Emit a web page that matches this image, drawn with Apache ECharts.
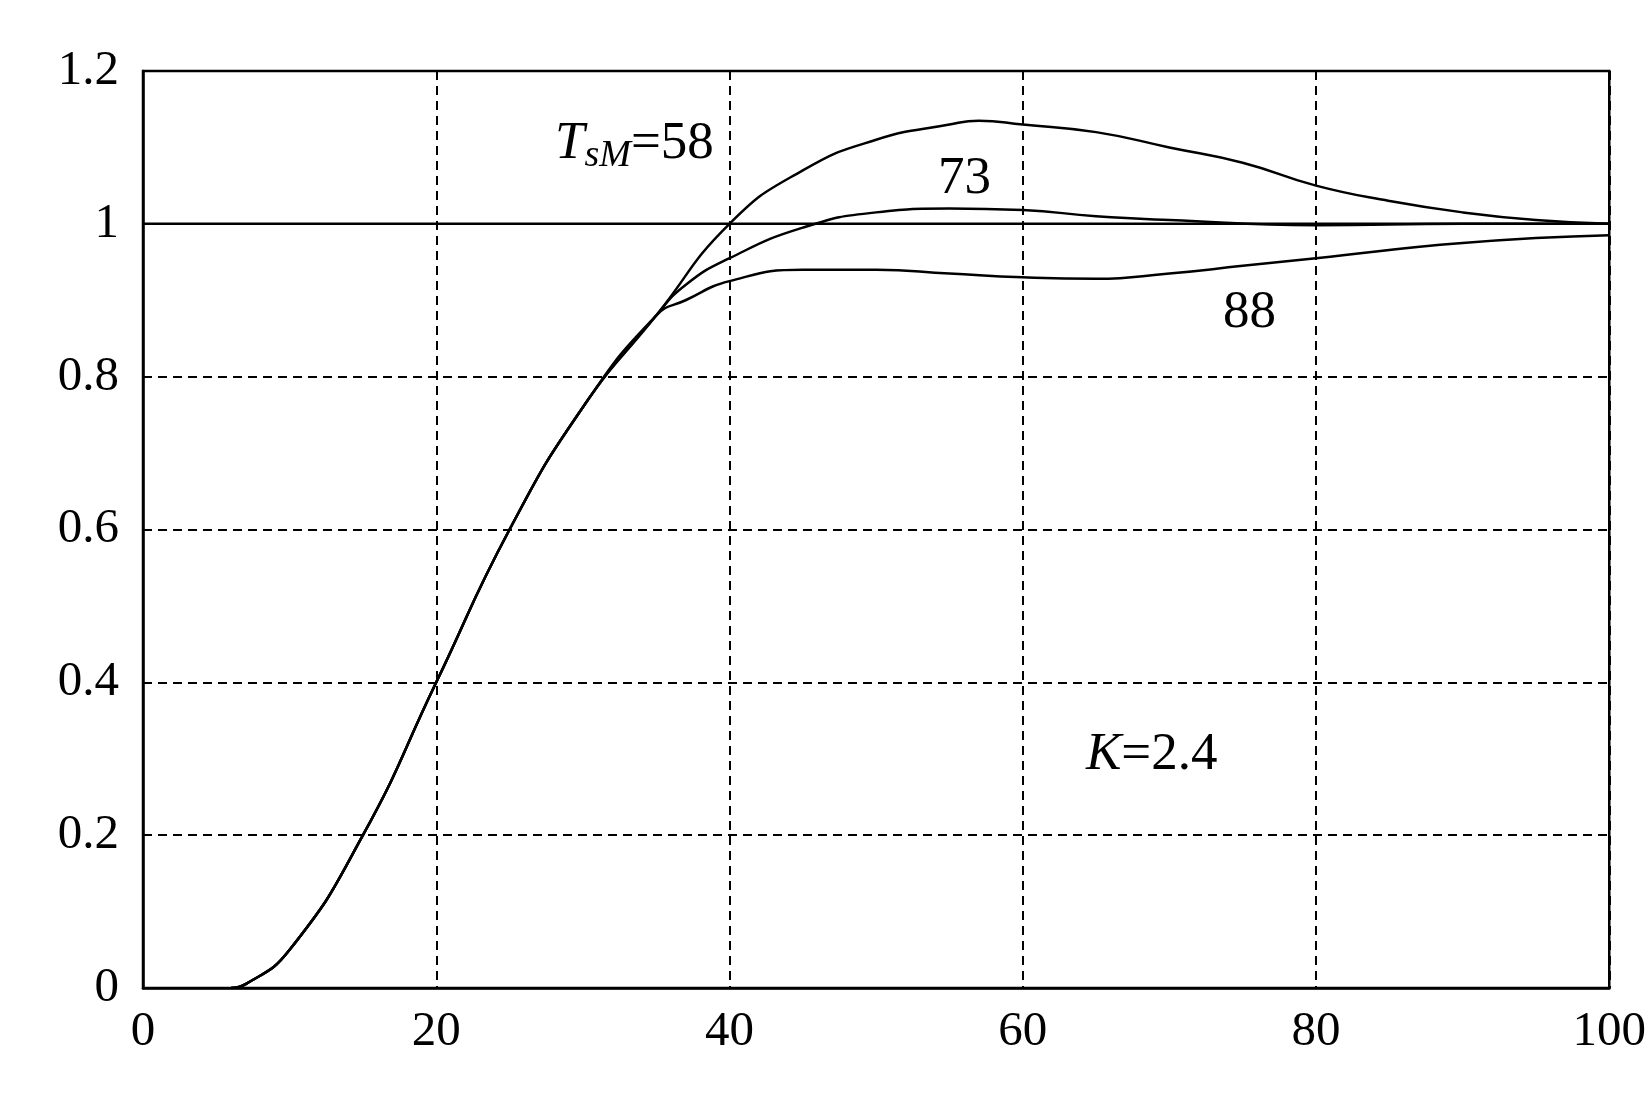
<!DOCTYPE html>
<html><head><meta charset="utf-8">
<script src="https://cdn.jsdelivr.net/npm/echarts@6/dist/echarts.min.js"></script>
<style>html,body{margin:0;background:#fff}#c{width:1649px;height:1100px}</style>
</head><body><div id="c"></div>
<script>
const rise = [[6,0],[7,0.005],[10,0.05],[15,0.2],[20,0.4],[25,0.6],[30,0.76],[35,0.88]];
const t58 = rise.concat([[40,1.0],[45,1.07],[50,1.11],[55,1.13],[57,1.135],[60,1.13],[65,1.12],[70,1.1],[75,1.08],[80,1.05],[85,1.03],[90,1.015],[95,1.005],[100,1.0]]);
const t73 = rise.concat([[37,0.92],[40,0.955],[45,0.995],[50,1.015],[55,1.02],[60,1.018],[65,1.01],[70,1.005],[80,0.998],[90,1.0],[100,1.0]]);
const t88 = rise.concat([[37,0.9],[40,0.925],[45,0.94],[50,0.94],[55,0.935],[60,0.93],[65,0.928],[70,0.935],[75,0.945],[80,0.955],[90,0.975],[100,0.985]]);
const ref = [[0,1],[100,1]];
const font = 'Liberation Serif';
const ch = echarts.init(document.getElementById('c'));
const ls = {color:'#000',width:2.5};
ch.setOption({
  animation:false,
  grid:{left:143,right:36,top:71,bottom:112,show:true,borderColor:'#000',borderWidth:2.5},
  xAxis:{type:'value',min:0,max:100,interval:20,axisLine:{lineStyle:{color:'#000',width:2.5}},axisTick:{show:false},
    axisLabel:{color:'#000',fontFamily:font,fontSize:49,margin:20},
    splitLine:{lineStyle:{color:'#000',type:[9,6],width:2}}},
  yAxis:{type:'value',min:0,max:1.2,interval:0.2,axisLine:{show:true,lineStyle:{color:'#000',width:2.5}},axisTick:{show:false},
    axisLabel:{color:'#000',fontFamily:font,fontSize:49,margin:24},
    splitLine:{lineStyle:{color:'#000',type:[9,6],width:2}}},
  series:[
    {type:'line',data:ref,symbol:'none',lineStyle:ls},
    {type:'line',data:t58,smooth:true,symbol:'none',lineStyle:ls},
    {type:'line',data:t73,smooth:true,symbol:'none',lineStyle:ls},
    {type:'line',data:t88,smooth:true,symbol:'none',lineStyle:ls}
  ],
  graphic:[
    {type:'text',left:555,top:118,style:{rich:{i:{fontFamily:font,fontStyle:'italic',fontSize:53},s:{fontFamily:font,fontStyle:'italic',fontSize:38,padding:[24,0,0,0]},n:{fontFamily:font,fontSize:53}},text:'{i|T}{s|sM}{n|=58}',fill:'#000'}},
    {type:'text',left:938,top:153,style:{text:'73',font:'53px Liberation Serif',fill:'#000'}},
    {type:'text',left:1223,top:287,style:{text:'88',font:'53px Liberation Serif',fill:'#000'}},
    {type:'text',left:1086,top:729,style:{rich:{i:{fontFamily:font,fontStyle:'italic',fontSize:53},n:{fontFamily:font,fontSize:53}},text:'{i|K}{n|=2.4}',fill:'#000'}}
  ]
});
</script></body></html>
